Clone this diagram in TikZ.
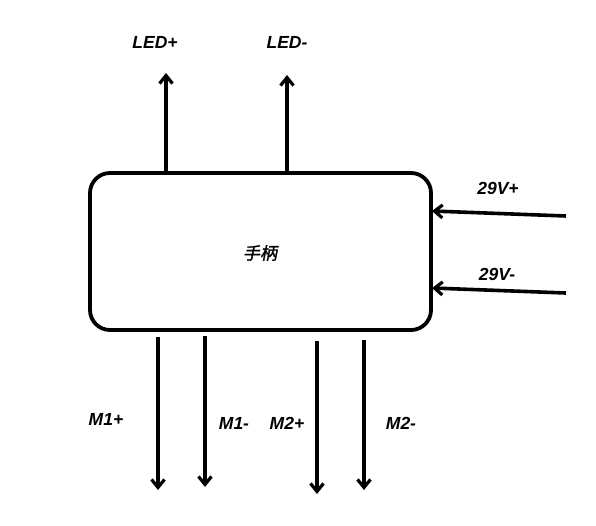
\documentclass[tikz,border=0pt]{standalone}
\usepackage{fontspec}
\setmainfont{Liberation Sans}
\newfontfamily\cjk[FakeSlant=0.2,FakeBold=1.5]{Noto Sans CJK SC}
\usetikzlibrary{arrows.meta}
\tikzset{
    pin/.style={line width=3.6pt, -{Straight Barb[length=8pt, width=13pt, line width=3.2pt]}},
    tag/.style={font=\fontsize{17.5}{20}\selectfont\bfseries\itshape}
}
\begin{document}
\begin{tikzpicture}[x=1pt, y=-1pt]
    \useasboundingbox (0, 0) rectangle (596, 525);
    \node[draw, line width=3.8pt, rounded corners=20pt, minimum width=341pt, minimum height=157pt] (handle) at (260.5, 251.5) {};
    \node (name) at (260, 253) {\cjk\fontsize{17}{19}\selectfont 手柄};

    % top: LED
    \coordinate (ledp) at (166, 73);
    \coordinate (ledm) at (287, 75);
    \node[tag] (ledpl) at (155, 42) {LED+};
    \node[tag] (ledml) at (287, 42) {LED-};
    \draw[pin] (handle.north -| ledp) -- (ledp);
    \draw[pin] (handle.north -| ledm) -- (ledm);

    % right: supply
    \coordinate (vp) at (566, 216);
    \coordinate (vm) at (566, 293);
    \coordinate (vpin) at (432, 211);
    \coordinate (vmin) at (432, 288);
    \node[tag] (vpl) at (498, 188) {29V+};
    \node[tag] (vml) at (497, 274) {29V-};
    \draw[pin] (vp) -- (vpin);
    \draw[pin] (vm) -- (vmin);

    % bottom: motors
    \coordinate (m1p) at (158, 490);
    \coordinate (m1m) at (205, 487);
    \coordinate (m2p) at (317, 494);
    \coordinate (m2m) at (364, 490);
    \node[tag] (m1pl) at (106, 419) {M1+};
    \node[tag] (m1ml) at (234, 423) {M1-};
    \node[tag] (m2pl) at (287, 423) {M2+};
    \node[tag] (m2ml) at (401, 423) {M2-};
    \draw[pin] (handle.south -| m1p) ++(0, 5) -- (m1p);
    \draw[pin] (handle.south -| m1m) ++(0, 4) -- (m1m);
    \draw[pin] (handle.south -| m2p) ++(0, 9) -- (m2p);
    \draw[pin] (handle.south -| m2m) ++(0, 8) -- (m2m);
\end{tikzpicture}
\end{document}
